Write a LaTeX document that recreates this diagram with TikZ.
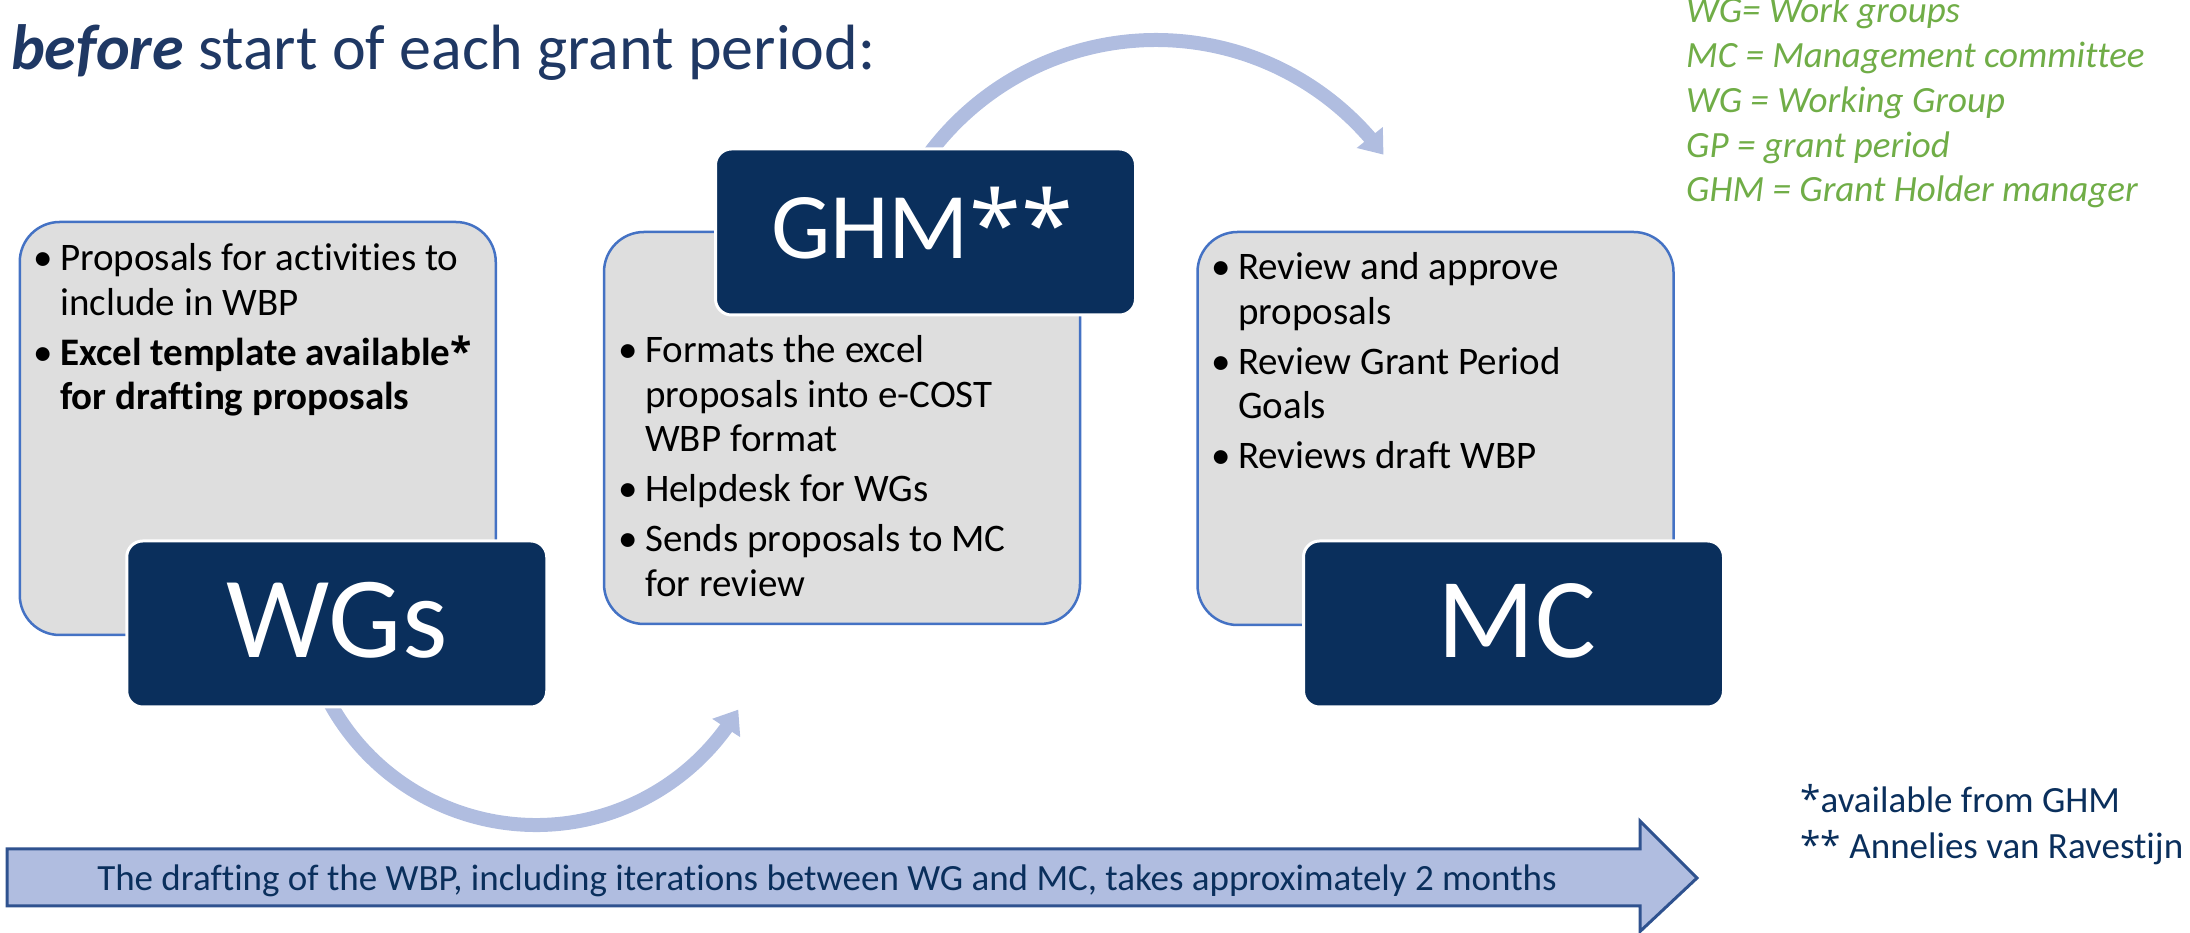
\documentclass[tikz,border=0pt]{standalone}
\usepackage{fontspec}
\setmainfont{Carlito}[Ligatures={NoCommon}]
\newfontfamily\starfont{Open Sans}
\usetikzlibrary{arrows.meta,bending}

\definecolor{navy}{RGB}{10,47,92}
\definecolor{titleblue}{RGB}{31,56,100}
\definecolor{boxgray}{RGB}{222,222,222}
\definecolor{boxedge}{RGB}{68,114,196}
\definecolor{arcblue}{RGB}{176,189,224}
\definecolor{baredge}{RGB}{47,82,143}
\definecolor{legendgreen}{RGB}{112,173,71}

% bullet hung to the left of the text column
\newcommand\bul{\llap{\makebox[34pt][c]{•}}}
% a fuller asterisk than the text face offers
\newcommand\st{{\starfont *}}

\begin{document}
\begin{tikzpicture}[x=1pt,y=1pt,
  panel/.style={draw=boxedge, line width=2.5pt, fill=boxgray,
    rounded corners=40pt, inner sep=0pt, minimum width=476pt},
  tag/.style={draw=white, line width=3pt, fill=navy, rounded corners=16pt,
    inner sep=0pt, minimum width=420pt, minimum height=166pt},
  tagtext/.style={anchor=base, inner sep=0pt, text=white},
  listtext/.style={anchor=base west, inner sep=0pt, text=black,
    font=\fontsize{39}{44.5}\selectfont},
  flowarc/.style={draw=arcblue, line width=14pt,
    -{Triangle[width=32pt,length=22pt]}},
]
\useasboundingbox (0,0) rectangle (2190,933);
\clip (0,0) rectangle (2190,933);

% title
\node[anchor=base west, inner sep=0pt, text=titleblue,
  font=\fontsize{64}{76}\selectfont] (title) at (11,863)
  {\textbf{\textit{before}} start of each grant period:};

% abbreviations
\node[anchor=base west, inner sep=0pt, text=legendgreen,
  font=\fontsize{37}{44.75}\selectfont\itshape] (legend) at (1686,910)
  {\begin{tabular}[t]{@{}l@{}}
   WG= Work groups\\
   MC = Management committee\\
   WG = Working Group\\
   GP = grant period\\
   GHM = Grant Holder manager
   \end{tabular}};

% grey panels
\node[panel, minimum height=413pt] (wgpanel) at (257.75,504.5) {};
\node[panel, minimum height=392pt] (ghmpanel) at (842,505) {};
\node[panel, minimum height=393pt] (mcpanel) at (1435.5,504.5) {};

% panel contents
\node[listtext] (wglist) at (60,662) {\begin{tabular}[t]{@{}l@{}}
  \bul Proposals for activities to\\
  include in WBP\\[5.5pt]
  \bul\textbf{Excel template available\st}\\
  \textbf{for drafting proposals}
  \end{tabular}};

\node[listtext] (ghmlist) at (645,570) {\begin{tabular}[t]{@{}l@{}}
  \bul Formats the excel\\
  proposals into e-COST\\
  WBP format\\[5.5pt]
  \bul Helpdesk for WGs\\[5.5pt]
  \bul Sends proposals to MC\\
  for review
  \end{tabular}};

\node[listtext] (mclist) at (1238,653) {\begin{tabular}[t]{@{}l@{}}
  \bul Review and approve\\
  proposals\\[5.5pt]
  \bul Review Grant Period\\
  Goals\\[5.5pt]
  \bul Reviews draft WBP
  \end{tabular}};

% curved flow arrows
\coordinate (lowc) at (536,343);
\coordinate (upc) at (1156,610);
\draw[flowarc] ([shift={(208:235)}]lowc) arc[start angle=208, end angle=329.4, radius=235];
\draw[flowarc] ([shift={(145:283)}]upc) arc[start angle=145, end angle=36.5, radius=283];

% dark title tags
\node[tag] (wgs) at (336.75,309) {};
\node[tag] (ghm) at (925.5,701) {};
\node[tag] (mc) at (1513.5,309) {};
\node[tagtext, font=\fontsize{116}{130}\selectfont] (wgslabel) at (337,275) {WGs};
\node[tagtext, font=\fontsize{94}{110}\selectfont] (ghmlabel) at (922,674) {GHM\st\st};
\node[tagtext, font=\fontsize{114}{130}\selectfont] (mclabel) at (1517,275) {MC};

% timeline arrow
\filldraw[fill=arcblue, draw=baredge, line width=3pt, line join=miter]
  (7,84) -- (1640,84) -- (1640,112) -- (1697,55) -- (1640,1.5)
  -- (1640,27) -- (7,27) -- cycle;
\node[anchor=base, inner sep=0pt, text=navy,
  font=\fontsize{37}{44}\selectfont] (timeline) at (827,42)
  {The drafting of the WBP, including iterations between WG and MC, takes approximately 2 months};

% footnotes
\node[anchor=base west, inner sep=0pt, text=navy,
  font=\fontsize{37}{46}\selectfont] (note1) at (1800,120) {\st available from GHM};
\node[anchor=base west, inner sep=0pt, text=navy,
  font=\fontsize{37}{46}\selectfont] (note2) at (1800,74) {\st\st{} Annelies van Ravestijn};
\end{tikzpicture}
\end{document}
